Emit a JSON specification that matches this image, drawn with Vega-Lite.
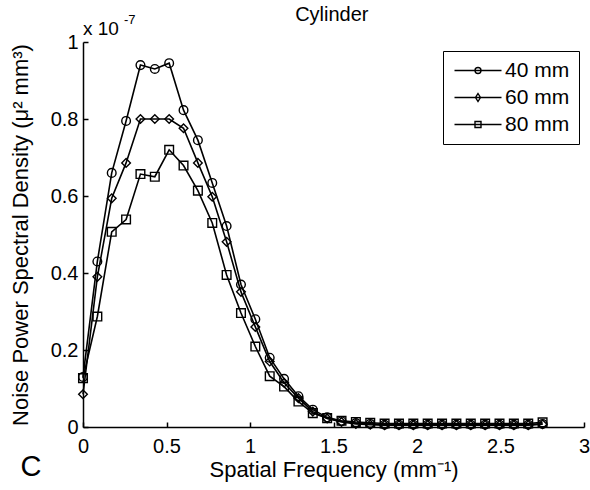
{
  "$schema": "https://vega.github.io/schema/vega-lite/v6.json",
  "width": 501,
  "height": 385,
  "autosize": {"type": "none"},
  "padding": {"left": 83, "top": 42, "right": 6, "bottom": 63},
  "background": "white",
  "config": {
    "view": {"stroke": null},
    "font": "Liberation Sans",
    "axis": {
      "grid": false,
      "domainColor": "black",
      "domainWidth": 1.5,
      "tickColor": "black",
      "tickWidth": 1.5,
      "tickSize": -5,
      "labelFont": "Liberation Sans",
      "labelFontSize": 20,
      "labelColor": "black",
      "labelFlush": false,
      "titleFont": "Liberation Sans",
      "titleFontSize": 22,
      "titleFontWeight": "normal",
      "titleColor": "black"
    }
  },
  "datasets": {
    "nps": [
      {"f": 0, "v": 0.13, "s": "40 mm"},
      {"f": 0.086, "v": 0.43, "s": "40 mm"},
      {"f": 0.172, "v": 0.66, "s": "40 mm"},
      {"f": 0.258, "v": 0.795, "s": "40 mm"},
      {"f": 0.344, "v": 0.94, "s": "40 mm"},
      {"f": 0.43, "v": 0.93, "s": "40 mm"},
      {"f": 0.516, "v": 0.945, "s": "40 mm"},
      {"f": 0.602, "v": 0.823, "s": "40 mm"},
      {"f": 0.688, "v": 0.745, "s": "40 mm"},
      {"f": 0.774, "v": 0.634, "s": "40 mm"},
      {"f": 0.86, "v": 0.522, "s": "40 mm"},
      {"f": 0.946, "v": 0.37, "s": "40 mm"},
      {"f": 1.032, "v": 0.28, "s": "40 mm"},
      {"f": 1.118, "v": 0.18, "s": "40 mm"},
      {"f": 1.204, "v": 0.125, "s": "40 mm"},
      {"f": 1.29, "v": 0.08, "s": "40 mm"},
      {"f": 1.376, "v": 0.045, "s": "40 mm"},
      {"f": 1.462, "v": 0.025, "s": "40 mm"},
      {"f": 1.548, "v": 0.015, "s": "40 mm"},
      {"f": 1.634, "v": 0.01, "s": "40 mm"},
      {"f": 1.72, "v": 0.008, "s": "40 mm"},
      {"f": 1.806, "v": 0.006, "s": "40 mm"},
      {"f": 1.892, "v": 0.006, "s": "40 mm"},
      {"f": 1.978, "v": 0.006, "s": "40 mm"},
      {"f": 2.064, "v": 0.006, "s": "40 mm"},
      {"f": 2.15, "v": 0.006, "s": "40 mm"},
      {"f": 2.236, "v": 0.006, "s": "40 mm"},
      {"f": 2.322, "v": 0.006, "s": "40 mm"},
      {"f": 2.408, "v": 0.006, "s": "40 mm"},
      {"f": 2.494, "v": 0.006, "s": "40 mm"},
      {"f": 2.58, "v": 0.006, "s": "40 mm"},
      {"f": 2.666, "v": 0.006, "s": "40 mm"},
      {"f": 2.752, "v": 0.008, "s": "40 mm"},
      {"f": 0, "v": 0.085, "s": "60 mm"},
      {"f": 0.086, "v": 0.39, "s": "60 mm"},
      {"f": 0.172, "v": 0.594, "s": "60 mm"},
      {"f": 0.258, "v": 0.686, "s": "60 mm"},
      {"f": 0.344, "v": 0.8, "s": "60 mm"},
      {"f": 0.43, "v": 0.8, "s": "60 mm"},
      {"f": 0.516, "v": 0.8, "s": "60 mm"},
      {"f": 0.602, "v": 0.776, "s": "60 mm"},
      {"f": 0.688, "v": 0.686, "s": "60 mm"},
      {"f": 0.774, "v": 0.598, "s": "60 mm"},
      {"f": 0.86, "v": 0.481, "s": "60 mm"},
      {"f": 0.946, "v": 0.351, "s": "60 mm"},
      {"f": 1.032, "v": 0.26, "s": "60 mm"},
      {"f": 1.118, "v": 0.17, "s": "60 mm"},
      {"f": 1.204, "v": 0.115, "s": "60 mm"},
      {"f": 1.29, "v": 0.075, "s": "60 mm"},
      {"f": 1.376, "v": 0.04, "s": "60 mm"},
      {"f": 1.462, "v": 0.022, "s": "60 mm"},
      {"f": 1.548, "v": 0.013, "s": "60 mm"},
      {"f": 1.634, "v": 0.008, "s": "60 mm"},
      {"f": 1.72, "v": 0.006, "s": "60 mm"},
      {"f": 1.806, "v": 0.005, "s": "60 mm"},
      {"f": 1.892, "v": 0.005, "s": "60 mm"},
      {"f": 1.978, "v": 0.005, "s": "60 mm"},
      {"f": 2.064, "v": 0.005, "s": "60 mm"},
      {"f": 2.15, "v": 0.005, "s": "60 mm"},
      {"f": 2.236, "v": 0.005, "s": "60 mm"},
      {"f": 2.322, "v": 0.005, "s": "60 mm"},
      {"f": 2.408, "v": 0.005, "s": "60 mm"},
      {"f": 2.494, "v": 0.005, "s": "60 mm"},
      {"f": 2.58, "v": 0.005, "s": "60 mm"},
      {"f": 2.666, "v": 0.005, "s": "60 mm"},
      {"f": 2.752, "v": 0.007, "s": "60 mm"},
      {"f": 0, "v": 0.127, "s": "80 mm"},
      {"f": 0.086, "v": 0.287, "s": "80 mm"},
      {"f": 0.172, "v": 0.507, "s": "80 mm"},
      {"f": 0.258, "v": 0.539, "s": "80 mm"},
      {"f": 0.344, "v": 0.657, "s": "80 mm"},
      {"f": 0.43, "v": 0.65, "s": "80 mm"},
      {"f": 0.516, "v": 0.72, "s": "80 mm"},
      {"f": 0.602, "v": 0.679, "s": "80 mm"},
      {"f": 0.688, "v": 0.614, "s": "80 mm"},
      {"f": 0.774, "v": 0.53, "s": "80 mm"},
      {"f": 0.86, "v": 0.395, "s": "80 mm"},
      {"f": 0.946, "v": 0.296, "s": "80 mm"},
      {"f": 1.032, "v": 0.209, "s": "80 mm"},
      {"f": 1.118, "v": 0.132, "s": "80 mm"},
      {"f": 1.204, "v": 0.105, "s": "80 mm"},
      {"f": 1.29, "v": 0.066, "s": "80 mm"},
      {"f": 1.376, "v": 0.036, "s": "80 mm"},
      {"f": 1.462, "v": 0.023, "s": "80 mm"},
      {"f": 1.548, "v": 0.016, "s": "80 mm"},
      {"f": 1.634, "v": 0.013, "s": "80 mm"},
      {"f": 1.72, "v": 0.011, "s": "80 mm"},
      {"f": 1.806, "v": 0.009, "s": "80 mm"},
      {"f": 1.892, "v": 0.009, "s": "80 mm"},
      {"f": 1.978, "v": 0.009, "s": "80 mm"},
      {"f": 2.064, "v": 0.009, "s": "80 mm"},
      {"f": 2.15, "v": 0.009, "s": "80 mm"},
      {"f": 2.236, "v": 0.009, "s": "80 mm"},
      {"f": 2.322, "v": 0.009, "s": "80 mm"},
      {"f": 2.408, "v": 0.009, "s": "80 mm"},
      {"f": 2.494, "v": 0.009, "s": "80 mm"},
      {"f": 2.58, "v": 0.009, "s": "80 mm"},
      {"f": 2.666, "v": 0.009, "s": "80 mm"},
      {"f": 2.752, "v": 0.012, "s": "80 mm"}
    ]
  },
  "resolve": {"scale": {"shape": "independent"}, "legend": {"shape": "independent"}},
  "layer": [
    {
      "data": {"name": "nps"},
      "mark": {"type": "line", "color": "black", "strokeWidth": 1.6},
      "encoding": {
        "x": {"field": "f", "type": "quantitative", "scale": {"domain": [0, 3], "nice": false},
          "axis": {"title": "Spatial Frequency (mm⁻¹)", "values": [0, 0.5, 1, 1.5, 2, 2.5, 3], "format": "~g", "labelPadding": 14, "titlePadding": 3}},
        "y": {"field": "v", "type": "quantitative", "scale": {"domain": [0, 1], "nice": false},
          "axis": {"title": "Noise Power Spectral Density (μ² mm³)", "values": [0, 0.2, 0.4, 0.6, 0.8, 1], "format": "~g", "labelPadding": 10, "titlePadding": 18}},
        "detail": {"field": "s", "type": "nominal"}
      }
    },
    {
      "data": {"name": "nps"},
      "mark": {"type": "point", "filled": false, "color": "black", "strokeWidth": 1.4, "size": 75, "opacity": 1},
      "encoding": {
        "x": {"field": "f", "type": "quantitative"},
        "y": {"field": "v", "type": "quantitative"},
        "shape": {"field": "s", "type": "nominal",
          "scale": {"domain": ["40 mm", "60 mm", "80 mm"], "range": ["circle", "diamond", "square"]},
          "legend": null}
      }
    },
    {
      "data": {"name": "nps"},
      "mark": {"type": "point", "filled": false, "color": "black", "strokeWidth": 1.4, "size": 100, "opacity": 0},
      "encoding": {
        "x": {"field": "f", "type": "quantitative"},
        "y": {"field": "v", "type": "quantitative"},
        "shape": {"field": "s", "type": "nominal",
          "scale": {"domain": ["40 mm", "60 mm", "80 mm"],
            "range": [
              "M-1.6,0H7.8M3.7,0A0.6,0.6,0,1,1,2.5,0A0.6,0.6,0,1,1,3.7,0Z",
              "M-1.6,0H7.8M3.1,-0.8L3.6,0L3.1,0.8L2.6,0Z",
              "M-1.6,0H7.8M2.5,-0.6H3.7V0.6H2.5Z"
            ]},
          "legend": {
            "title": null,
            "orient": "none",
            "legendX": 360,
            "legendY": 9,
            "padding": 9,
            "strokeColor": "black",
            "labelFont": "Liberation Sans",
            "labelFontSize": 21,
            "labelColor": "black",
            "labelOffset": 32,
            "rowPadding": 5,
            "symbolSize": 100,
            "symbolOpacity": 1,
            "symbolStrokeWidth": 1.4,
            "symbolStrokeColor": "black",
            "symbolFillColor": "transparent"
          }}
      }
    },
    {
      "data": {"values": [{}]},
      "mark": {"type": "text", "text": "Cylinder", "align": "center", "baseline": "middle", "fontSize": 20, "color": "black"},
      "encoding": {"x": {"datum": 1.49}, "y": {"datum": 1.07}}
    },
    {
      "data": {"values": [{}]},
      "mark": {"type": "text", "text": "x 10", "align": "left", "baseline": "alphabetic", "fontSize": 19, "color": "black"},
      "encoding": {"x": {"datum": 0}, "y": {"datum": 1.018}}
    },
    {
      "data": {"values": [{}]},
      "mark": {"type": "text", "text": "-7", "align": "left", "baseline": "alphabetic", "fontSize": 13, "color": "black"},
      "encoding": {"x": {"datum": 0.245}, "y": {"datum": 1.046}}
    },
    {
      "data": {"values": [{}]},
      "mark": {"type": "text", "text": "C", "align": "center", "baseline": "middle", "fontSize": 29, "color": "black"},
      "encoding": {"x": {"datum": -0.311}, "y": {"datum": -0.104}}
    }
  ]
}
